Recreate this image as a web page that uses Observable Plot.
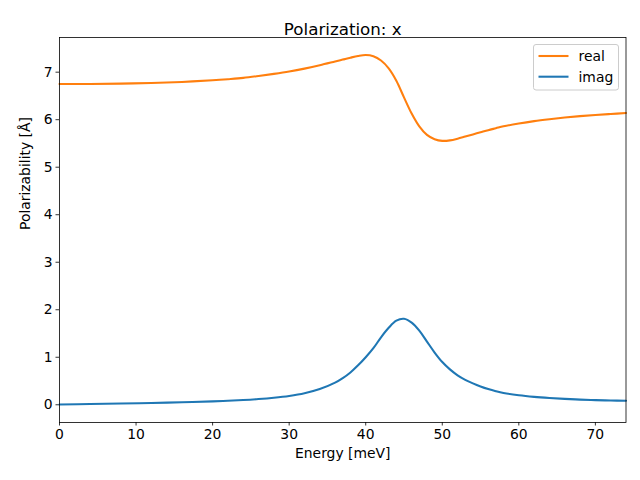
<!DOCTYPE html>
<html><head><meta charset="utf-8">
<script src="https://cdn.jsdelivr.net/npm/d3@7"></script>
<script src="https://cdn.jsdelivr.net/npm/@observablehq/plot@0.6"></script>
<style>body{margin:0;background:#fff} #chart{width:640px;height:480px}</style>
</head><body><div id="chart"></div>
<script>
const energy = [0, 4, 8, 12, 16, 20, 22, 24, 26, 28, 30, 32, 34, 36, 37, 38, 39, 40, 41, 42, 43, 44, 45, 46, 47, 48, 49, 50, 51, 52, 53, 54, 55, 56, 57, 58, 60, 62, 64, 66, 68, 70, 72, 74];
const realValues = [6.75, 6.753, 6.76, 6.772, 6.795, 6.83, 6.853, 6.88, 6.92, 6.965, 7.015, 7.075, 7.145, 7.225, 7.265, 7.305, 7.34, 7.36, 7.335, 7.245, 7.08, 6.82, 6.47, 6.13, 5.86, 5.68, 5.59, 5.555, 5.565, 5.60, 5.645, 5.69, 5.735, 5.78, 5.82, 5.86, 5.92, 5.97, 6.01, 6.045, 6.075, 6.10, 6.12, 6.14];
const imagValues = [0.005, 0.015, 0.026, 0.038, 0.053, 0.071, 0.083, 0.099, 0.12, 0.148, 0.186, 0.242, 0.33, 0.465, 0.56, 0.68, 0.83, 1.00, 1.19, 1.42, 1.62, 1.77, 1.81, 1.73, 1.56, 1.33, 1.10, 0.90, 0.745, 0.62, 0.525, 0.45, 0.385, 0.33, 0.285, 0.248, 0.200, 0.167, 0.143, 0.124, 0.109, 0.098, 0.09, 0.083];
const seriesNames = ["real", "imag"];
const seriesColors = ["#ff7f0e", "#1f77b4"];
const xTicks = [0, 10, 20, 30, 40, 50, 60, 70];
const yTicks = [0, 1, 2, 3, 4, 5, 6, 7];
const titleText = "Polarization: x";
const xLabel = "Energy [meV]";
const yLabel = "Polarizability [Å]";

const rows = [];
energy.forEach((e, i) => {
  rows.push({energy: e, value: realValues[i], series: "real"});
  rows.push({energy: e, value: imagValues[i], series: "imag"});
});

const plot = Plot.plot({
  width: 640, height: 480,
  marginLeft: 59, marginRight: 14.5, marginTop: 37, marginBottom: 58,
  style: {fontFamily: "DejaVu Sans", fontSize: "13.9px", background: "white", color: "black"},
  x: {domain: [0, 74]},
  y: {domain: [-0.373, 7.73]},
  color: {domain: seriesNames, range: seriesColors},
  marks: [
    Plot.axisX({ticks: xTicks, tickSize: 3.5, tickPadding: 3.5, tickFormat: d => String(d), label: null, strokeWidth: 0.8}),
    Plot.axisY({ticks: yTicks, tickSize: 3.5, tickPadding: 3.5, tickFormat: d => String(d), label: null, strokeWidth: 0.8}),
    Plot.lineY(rows.filter(d => d.series === "imag"), {x: "energy", y: "value", stroke: "series", strokeWidth: 2.08, curve: "catmull-rom"}),
    Plot.lineY(rows.filter(d => d.series === "real"), {x: "energy", y: "value", stroke: "series", strokeWidth: 2.08, curve: "catmull-rom"}),
    Plot.frame({stroke: "black", strokeWidth: 0.8}),
    Plot.text([titleText], {text: d => d, frameAnchor: "top", dy: -14, fontSize: 16.7}),
    Plot.text([xLabel], {text: d => d, frameAnchor: "bottom", dy: 35}),
    Plot.text([yLabel], {text: d => d, frameAnchor: "left", dx: -34, rotate: -90})
  ]
});

// legend (matplotlib-style box, upper right)
const svg = d3.select(plot);
const lg = svg.append("g").attr("font-family", "DejaVu Sans").attr("font-size", "13.9px").attr("text-anchor", "start");
lg.append("rect").attr("x", 533.5).attr("y", 44.5).attr("width", 85).attr("height", 45.5)
  .attr("rx", 2.5).attr("fill", "white").attr("fill-opacity", 0.8)
  .attr("stroke", "#cccccc").attr("stroke-width", 1);
seriesNames.forEach((name, i) => {
  const y = 56 + i * 20.7;
  lg.append("line").attr("x1", 538.5).attr("x2", 568.5).attr("y1", y).attr("y2", y)
    .attr("stroke", seriesColors[i]).attr("stroke-width", 2.08);
  lg.append("text").attr("x", 578.5).attr("y", y).attr("dy", "0.35em").attr("fill", "black")
    .attr("text-anchor", "start").text(name);
});

document.getElementById("chart").appendChild(plot);
</script>
</body></html>
